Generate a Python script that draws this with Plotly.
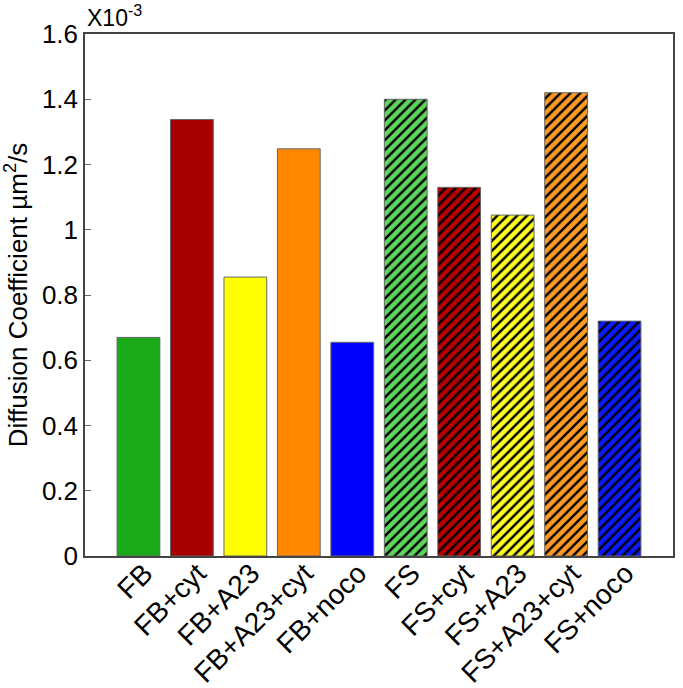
import plotly.graph_objects as go

categories = ["FB", "FB+cyt", "FB+A23", "FB+A23+cyt", "FB+noco",
              "FS", "FS+cyt", "FS+A23", "FS+A23+cyt", "FS+noco"]
values = [0.67, 1.338, 0.855, 1.248, 0.655, 1.40, 1.13, 1.045, 1.42, 0.72]
colors = ["#1aaa1a", "#a80000", "#ffff00", "#ff8800", "#0000ff",
          "#5dd65d", "#b80000", "#ffff22", "#ff9a22", "#0a1aff"]
hatched = [False] * 5 + [True] * 5
tick_vals = [0, 0.2, 0.4, 0.6, 0.8, 1.0, 1.2, 1.4, 1.6]
tick_text = ["0", "0.2", "0.4", "0.6", "0.8", "1", "1.2", "1.4", "1.6"]

positions = list(range(1, len(categories) + 1))
FONT = "Liberation Sans, Arial, Helvetica, sans-serif"

fig = go.Figure()
for flag in (False, True):
    idx = [i for i, h in enumerate(hatched) if h == flag]
    for i in idx:
        fig.add_trace(go.Bar(
            x=[positions[i]],
            y=[values[i]],
            width=0.8,
            hoverinfo="skip",
            marker=dict(
                color=colors[i],
                line=dict(color="#666666", width=1),
                pattern=dict(
                    shape="/" if flag else "",
                    fgcolor="#000000",
                    bgcolor=colors[i],
                    fgopacity=1,
                    size=7,
                    solidity=0.35,
                    fillmode="overlay",
                ),
            ),
            showlegend=False,
        ))

fig.update_layout(
    width=683, height=688,
    margin=dict(l=85, r=10, t=34, b=132),
    paper_bgcolor="white",
    plot_bgcolor="white",
    hovermode=False,
    barmode="overlay",
    font=dict(family=FONT, size=26, color="black"),
    xaxis=dict(
        range=[0, 11],
        tickmode="array",
        tickvals=positions,
        ticktext=categories,
        tickangle=-45,
        ticks="",
        ticklabelstandoff=-12,
        ticklabelshift=6,
        showgrid=False,
        zeroline=False,
        showline=True,
        linecolor="#444444",
        linewidth=1.5,
        mirror=True,
        automargin=False,
        tickfont=dict(family=FONT, size=28),
    ),
    yaxis=dict(
        range=[0, 1.6],
        tickmode="array",
        tickvals=tick_vals,
        ticktext=tick_text,
        ticks="inside",
        ticklen=6,
        tickcolor="#666666",
        showgrid=False,
        zeroline=False,
        showline=True,
        linecolor="#444444",
        linewidth=1.5,
        mirror=True,
        automargin=False,
        tickfont=dict(family=FONT, size=26),
        title=dict(text="Diffusion Coefficient µm<sup>2</sup>/s",
                   font=dict(family=FONT, size=26)),
    ),
    annotations=[dict(
        text="X10<sup>-3</sup>",
        xref="paper", yref="paper",
        x=0, y=1, xanchor="left", yanchor="bottom",
        yshift=1,
        showarrow=False,
        font=dict(family=FONT, size=23),
    )],
)

fig.write_html("out.html",
               config={"displayModeBar": False},
               post_script="document.body.style.margin='0';document.body.style.padding='0';")
